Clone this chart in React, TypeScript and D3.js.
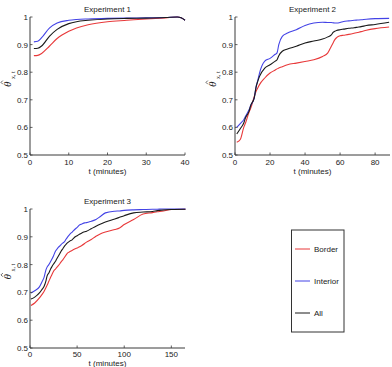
import React from "react";
import * as d3 from "d3";

// ---------- data ----------
const exp1T = [1, 2, 3, 5, 7, 10, 12, 15, 20, 25, 30, 35, 38, 39, 40];
const exp1Border = [0.86, 0.861, 0.868, 0.894, 0.922, 0.948, 0.96, 0.972, 0.983, 0.988, 0.993, 0.997, 1.0, 0.997, 0.988];
const exp1Interior = [0.91, 0.912, 0.925, 0.96, 0.978, 0.988, 0.991, 0.993, 0.995, 0.996, 0.997, 0.998, 1.0, 0.997, 0.988];
const exp1All = [0.886, 0.887, 0.895, 0.93, 0.955, 0.976, 0.983, 0.988, 0.993, 0.995, 0.996, 0.998, 1.0, 0.997, 0.988];

const exp2T = [1, 3, 5, 6, 8, 9, 11, 12, 13, 14, 17, 20, 23, 24, 25, 27, 30, 35, 40, 45, 50, 53, 55, 56, 57, 58, 60, 62, 65, 68, 70, 72, 75, 80, 88];
const exp2Border = [0.546, 0.556, 0.6, 0.616, 0.655, 0.67, 0.712, 0.73, 0.743, 0.755, 0.779, 0.797, 0.808, 0.812, 0.815, 0.82, 0.827, 0.833, 0.839, 0.845, 0.857, 0.87, 0.894, 0.906, 0.918, 0.925, 0.932, 0.934, 0.937, 0.941, 0.944, 0.947, 0.952, 0.958, 0.964];
const exp2Interior = [0.6, 0.614, 0.628, 0.64, 0.664, 0.68, 0.707, 0.746, 0.77, 0.797, 0.84, 0.85, 0.865, 0.87, 0.9, 0.93, 0.942, 0.954, 0.969, 0.978, 0.981, 0.98, 0.98, 0.979, 0.978, 0.978, 0.98, 0.984, 0.986, 0.988, 0.989, 0.99, 0.992, 0.994, 0.995];
const exp2All = [0.576, 0.595, 0.616, 0.635, 0.658, 0.68, 0.707, 0.745, 0.767, 0.785, 0.815, 0.827, 0.84, 0.845, 0.86, 0.876, 0.884, 0.894, 0.906, 0.913, 0.92, 0.928, 0.935, 0.944, 0.948, 0.951, 0.954, 0.956, 0.959, 0.961, 0.963, 0.965, 0.969, 0.973, 0.981];

const exp3T = [1, 5, 10, 13, 15, 17, 18, 20, 22, 23, 25, 27, 28, 30, 32, 33, 35, 37, 38, 40, 42, 45, 48, 50, 52, 55, 58, 60, 65, 70, 75, 80, 90, 95, 100, 110, 120, 130, 135, 140, 150, 165];
const exp3Border = [0.653, 0.662, 0.68, 0.694, 0.704, 0.718, 0.725, 0.74, 0.755, 0.762, 0.776, 0.784, 0.788, 0.796, 0.805, 0.81, 0.818, 0.828, 0.833, 0.842, 0.846, 0.852, 0.857, 0.86, 0.863, 0.869, 0.876, 0.881, 0.89, 0.902, 0.911, 0.917, 0.926, 0.932, 0.944, 0.962, 0.982, 0.987, 0.99, 0.992, 0.998, 0.999];
const exp3Interior = [0.698, 0.706, 0.72, 0.74, 0.755, 0.782, 0.79, 0.8, 0.812, 0.818, 0.832, 0.848, 0.853, 0.862, 0.868, 0.872, 0.878, 0.884, 0.89, 0.9, 0.908, 0.918, 0.928, 0.934, 0.941, 0.946, 0.95, 0.951, 0.956, 0.962, 0.974, 0.986, 0.992, 0.993, 0.995, 0.997, 0.998, 0.999, 0.999, 1.0, 1.0, 1.0];
const exp3All = [0.676, 0.683, 0.698, 0.712, 0.722, 0.742, 0.758, 0.77, 0.785, 0.791, 0.802, 0.812, 0.818, 0.83, 0.842, 0.848, 0.858, 0.868, 0.872, 0.879, 0.884, 0.89, 0.9, 0.904, 0.908, 0.914, 0.918, 0.92, 0.929, 0.938, 0.946, 0.953, 0.964, 0.97, 0.976, 0.986, 0.989, 0.991, 0.994, 0.996, 0.998, 0.999];

const yTicks = [0.5, 0.6, 0.7, 0.8, 0.9, 1];
const yTickLabels = ["0.5", "0.6", "0.7", "0.8", "0.9", "1"];
const exp1XTicks = [0, 10, 20, 30, 40];
const exp2XTicks = [0, 20, 40, 60, 80];
const exp3XTicks = [0, 50, 100, 150];

const seriesNames = ["Border", "Interior", "All"];
const seriesColors = ["#e8393a", "#4343e6", "#1a1a1a"];

const FONT = "'Liberation Sans', Arial, Helvetica, sans-serif";
const SERIF = "'Liberation Serif', 'DejaVu Serif', serif";

type PanelProps = {
  title: string;
  x0: number; x1: number; y0: number; y1: number;
  xDomain: [number, number];
  xTicks: number[];
  t: number[];
  series: number[][];
  xLabelOffset: number;
  tickOffset: number;
};

function Panel({ title, x0, x1, y0, y1, xDomain, xTicks, t, series, xLabelOffset, tickOffset }: PanelProps) {
  const xs = d3.scaleLinear().domain(xDomain).range([x0, x1]);
  const ys = d3.scaleLinear().domain([0.5, 1]).range([y1, y0]);
  const line = d3.line<[number, number]>()
    .x(d => xs(d[0]))
    .y(d => ys(d[1]))
    .curve(d3.curveMonotoneX);
  const axisColor = "#3a3a3a";
  const cx = (x0 + x1) / 2;
  const labelCy = (y0 + y1) / 2 - 9;
  return (
    <g>
      {series.map((vals, i) => (
        <path
          key={i}
          d={line(t.map((tt, j) => [tt, vals[j]] as [number, number])) || ""}
          fill="none"
          stroke={seriesColors[i]}
          strokeWidth={1.1}
        />
      ))}
      <line x1={x0} x2={x0} y1={y0} y2={y1} stroke={axisColor} strokeWidth={1} />
      <line x1={x0} x2={x1} y1={y1} y2={y1} stroke={axisColor} strokeWidth={1} />
      {yTicks.map((v, i) => (
        <g key={"y" + i}>
          <line x1={x0} x2={x0 + 2.5} y1={ys(v)} y2={ys(v)} stroke={axisColor} strokeWidth={0.8} />
          <text x={x0 - 2} y={ys(v) + 3} textAnchor="end" fontSize={8} fill="#222" fontFamily={FONT}>
            {yTickLabels[i]}
          </text>
        </g>
      ))}
      {xTicks.map((v, i) => (
        <g key={"x" + i}>
          <line x1={xs(v)} x2={xs(v)} y1={y1} y2={y1 - 2.5} stroke={axisColor} strokeWidth={0.8} />
          <text x={xs(v)} y={y1 + tickOffset} textAnchor="middle" fontSize={8} fill="#222" fontFamily={FONT}>
            {v}
          </text>
        </g>
      ))}
      <text x={cx} y={y0 - 5} textAnchor="middle" fontSize={8} fill="#222" fontFamily={FONT}>
        {title}
      </text>
      <text x={cx} y={y1 + xLabelOffset} textAnchor="middle" fontSize={8} fill="#222" fontFamily={FONT}>
        t (minutes)
      </text>
      <g transform={`translate(${x0 - 19},${labelCy}) rotate(-90)`}>
        <text x={-10} y={0} fontSize={11} fontStyle="italic" fill="#222" fontFamily={SERIF}>θ</text>
        <path d="M -7.2 -8.2 L -5.4 -10 L -3.6 -8.2" fill="none" stroke="#222" strokeWidth={0.7} />
        <text x={-2} y={3.5} fontSize={6} fill="#222" fontFamily={SERIF}>x, t</text>
      </g>
    </g>
  );
}

export default function App() {
  return (
    <svg width={392} height={367} style={{ position: "absolute", left: 0, top: 0, background: "#fff" }}>
      <Panel title="Experiment 1" x0={30} x1={185} y0={17} y1={155} xDomain={[0, 40]} xTicks={exp1XTicks}
        t={exp1T} series={[exp1Border, exp1Interior, exp1All]} xLabelOffset={19} tickOffset={10} />
      <Panel title="Experiment 2" x0={235} x1={390} y0={17} y1={155} xDomain={[0, 88.5]} xTicks={exp2XTicks}
        t={exp2T} series={[exp2Border, exp2Interior, exp2All]} xLabelOffset={19} tickOffset={10} />
      <Panel title="Experiment 3" x0={30} x1={185} y0={209} y1={348} xDomain={[0, 164.5]} xTicks={exp3XTicks}
        t={exp3T} series={[exp3Border, exp3Interior, exp3All]} xLabelOffset={18.2} tickOffset={9.3} />
      <g>
        <rect x={291.5} y={230} width={52.5} height={102} fill="#fff" stroke="#333" strokeWidth={1} />
        {seriesNames.map((name, i) => {
          const y = 249 + i * 32;
          return (
            <g key={name}>
              <line x1={295} x2={310} y1={y} y2={y} stroke={seriesColors[i]} strokeWidth={1} />
              <text x={314} y={y + 3} fontSize={8} fill="#222" fontFamily={FONT}>{name}</text>
            </g>
          );
        })}
      </g>
    </svg>
  );
}
